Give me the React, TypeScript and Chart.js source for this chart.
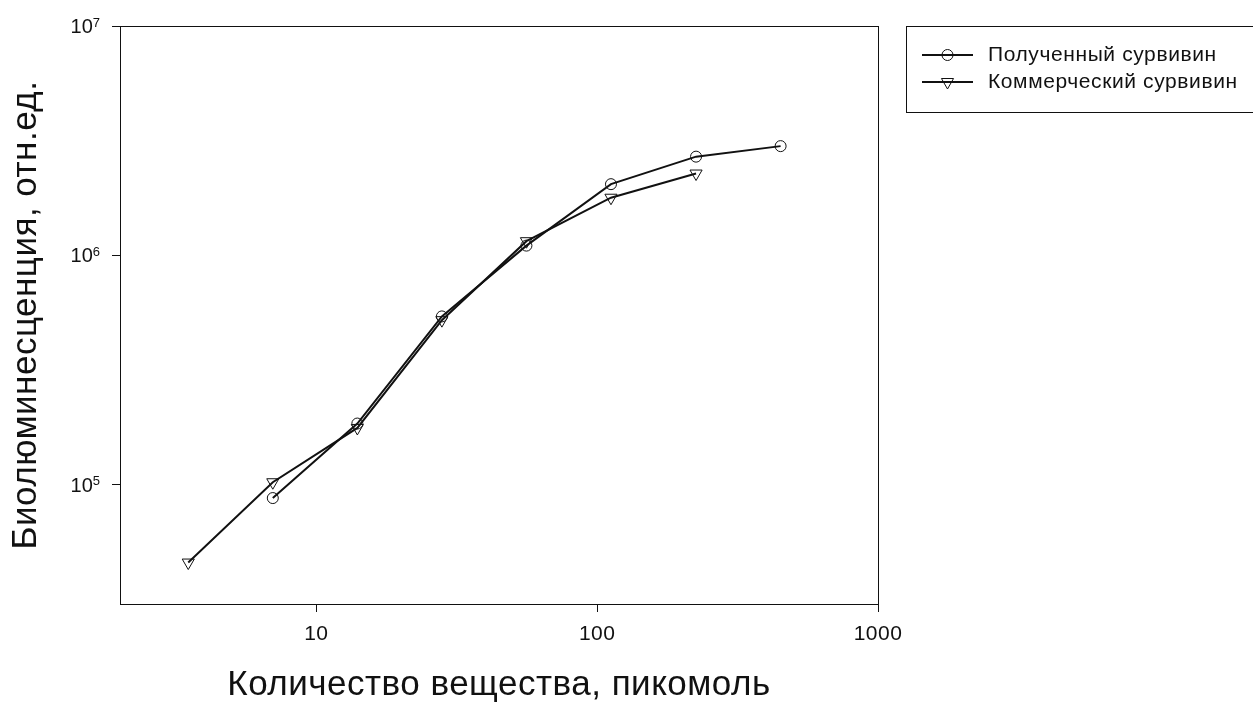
import React, { useEffect, useRef } from 'react';
import { Chart, registerables } from 'chart.js';

Chart.register(...registerables);

// ---- data ----
const seriesNames = ['Полученный сурвивин', 'Коммерческий сурвивин'];
const obtainedX = [7, 14, 28, 56, 112, 225, 450];
const obtainedY = [8.7e4, 1.84e5, 5.4e5, 1.1e6, 2.04e6, 2.69e6, 2.99e6];
const commercialX = [3.5, 7, 14, 28, 56, 112, 225];
const commercialY = [4.55e4, 1.02e5, 1.76e5, 5.2e5, 1.15e6, 1.78e6, 2.27e6];
const xTicks = [10, 100, 1000];
const yTicks = [1e5, 1e6, 1e7];
const xTitle = 'Количество вещества, пикомоль';
const yTitle = 'Биолюминесценция, отн.ед.';

// ---- style ----
const W = 1253;
const H = 706;
const INK = '#111111';
const FONT = "'Liberation Sans', Arial, sans-serif";

function drawMarker(ctx: CanvasRenderingContext2D, style: string, x: number, y: number, r: number) {
  ctx.beginPath();
  if (style === 'circle') {
    ctx.arc(x, y, r, 0, Math.PI * 2);
  } else {
    const a = (Math.PI * 2) / 3;
    for (let k = 0; k < 3; k++) {
      const ang = Math.PI / 2 + k * a;
      const px = x + Math.cos(ang) * r;
      const py = y + Math.sin(ang) * r;
      if (k === 0) ctx.moveTo(px, py);
      else ctx.lineTo(px, py);
    }
    ctx.closePath();
  }
  ctx.stroke();
}

const spacingPlugin = {
  id: 'textSpacing',
  beforeDraw(chart: any) {
    (chart.ctx as any).letterSpacing = '0.5px';
  },
  afterDraw(chart: any) {
    (chart.ctx as any).letterSpacing = '0px';
  },
};

const framePlugin = {
  id: 'frameBox',
  afterDraw(chart: any) {
    const { ctx, chartArea } = chart;
    ctx.save();
    ctx.strokeStyle = INK;
    ctx.lineWidth = 1;
    ctx.strokeRect(
      Math.round(chartArea.left) + 0.5,
      Math.round(chartArea.top) + 0.5,
      Math.round(chartArea.right - chartArea.left),
      Math.round(chartArea.bottom - chartArea.top)
    );
    ctx.restore();
  },
};

const yTickLabelPlugin = {
  id: 'yPowerLabels',
  afterDraw(chart: any) {
    const ctx = chart.ctx as CanvasRenderingContext2D;
    const ys = chart.scales.y;
    ctx.save();
    ctx.fillStyle = INK;
    ctx.textAlign = 'right';
    ctx.textBaseline = 'alphabetic';
    const right = ys.right - 20;
    yTicks.forEach((v) => {
      const py = ys.getPixelForValue(v);
      const exp = String(Math.round(Math.log10(v)));
      ctx.font = `13px ${FONT}`;
      ctx.fillText(exp, right, py + 1);
      const ew = ctx.measureText(exp).width;
      ctx.font = `20px ${FONT}`;
      ctx.fillText('10', right - ew, py + 7.3);
    });
    ctx.restore();
  },
};

const legendPlugin = {
  id: 'boxLegend',
  afterDraw(chart: any) {
    const ctx = chart.ctx as CanvasRenderingContext2D;
    ctx.save();
    ctx.strokeStyle = INK;
    ctx.lineWidth = 1;
    ctx.strokeRect(906.5, 26.5, 360, 86);
    chart.data.datasets.forEach((ds: any, i: number) => {
      const y = 55 + i * 27;
      ctx.strokeStyle = INK;
      ctx.lineWidth = 2;
      ctx.beginPath();
      ctx.moveTo(922, y);
      ctx.lineTo(973, y);
      ctx.stroke();
      ctx.lineWidth = 1;
      drawMarker(ctx, ds.pointStyle, 947.5, y, ds.pointRadius);
      ctx.fillStyle = INK;
      ctx.font = `21px ${FONT}`;
      (ctx as any).letterSpacing = '0.6px';
      ctx.textAlign = 'left';
      ctx.textBaseline = 'middle';
      ctx.fillText(ds.label, 988, y);
      (ctx as any).letterSpacing = '0px';
    });
    ctx.restore();
  },
};

export default function App() {
  const ref = useRef<HTMLCanvasElement>(null);

  useEffect(() => {
    if (!ref.current) return;
    const chart = new Chart(ref.current, {
      type: 'scatter',
      data: {
        datasets: [
          {
            label: seriesNames[0],
            data: obtainedX.map((x, i) => ({ x, y: obtainedY[i] })),
            showLine: true,
            borderColor: INK,
            borderWidth: 2,
            pointStyle: 'circle',
            pointRadius: 5.5,
            pointBorderWidth: 1,
            pointBorderColor: INK,
            pointBackgroundColor: 'rgba(0,0,0,0)',
          },
          {
            label: seriesNames[1],
            data: commercialX.map((x, i) => ({ x, y: commercialY[i] })),
            showLine: true,
            borderColor: INK,
            borderWidth: 2,
            pointStyle: 'triangle',
            pointRotation: 180,
            pointRadius: 7,
            pointBorderWidth: 1,
            pointBorderColor: INK,
            pointBackgroundColor: 'rgba(0,0,0,0)',
          },
        ],
      } as any,
      options: {
        animation: false,
        responsive: false,
        events: [],
        layout: { padding: { left: 0, top: 26, right: 375, bottom: 0 } },
        plugins: {
          legend: { display: false },
          tooltip: { enabled: false },
        },
        scales: {
          x: {
            type: 'logarithmic',
            position: 'bottom',
            min: 2,
            max: 1000,
            afterBuildTicks: (s: any) => {
              s.ticks = xTicks.map((v) => ({ value: v }));
            },
            afterFit: (s: any) => {
              s.height = 102;
            },
            ticks: {
              color: INK,
              font: { family: FONT, size: 21 },
              padding: 10,
              autoSkip: false,
              maxRotation: 0,
              callback: (v: any) => String(v),
            },
            grid: { drawOnChartArea: false, drawTicks: true, tickLength: 8, color: INK, lineWidth: 1 },
            border: { display: true, color: INK, width: 1 },
            title: {
              display: true,
              text: xTitle,
              color: INK,
              font: { family: FONT, size: 35 },
              padding: { top: 0, bottom: 0 },
            },
          },
          y: {
            type: 'logarithmic',
            position: 'left',
            min: 3e4,
            max: 1e7,
            afterBuildTicks: (s: any) => {
              s.ticks = yTicks.map((v) => ({ value: v }));
            },
            afterFit: (s: any) => {
              s.width = 120;
            },
            ticks: { display: false },
            grid: { drawOnChartArea: false, drawTicks: true, tickLength: 8, color: INK, lineWidth: 1 },
            border: { display: true, color: INK, width: 1 },
            title: {
              display: true,
              text: yTitle,
              color: INK,
              font: { family: FONT, size: 35 },
              padding: { top: 5, bottom: 0 },
            },
          },
        },
      } as any,
      plugins: [spacingPlugin, framePlugin, yTickLabelPlugin, legendPlugin],
    });
    return () => chart.destroy();
  }, []);

  return (
    <div style={{ position: 'fixed', left: 0, top: 0, width: W, height: H, background: '#ffffff' }}>
      <canvas ref={ref} width={W} height={H} style={{ width: W, height: H, display: 'block' }} />
    </div>
  );
}
